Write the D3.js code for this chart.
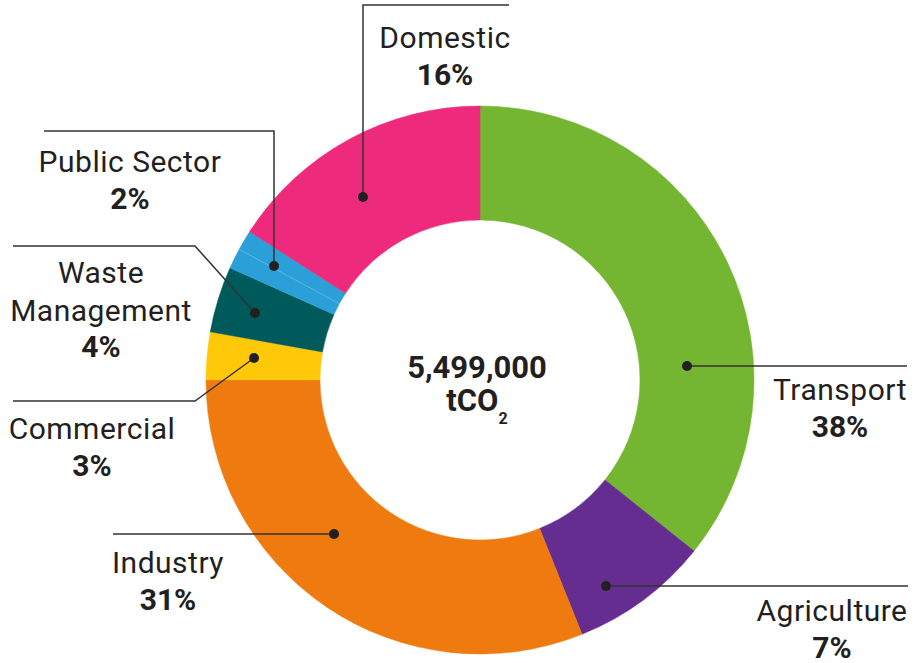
<!DOCTYPE html>
<html>
<head>
<meta charset="utf-8">
<script src="https://cdn.jsdelivr.net/npm/d3@7"></script>
<style>
  html, body { margin: 0; padding: 0; background: #fff; }
  #chart { width: 924px; height: 663px; }
  text { font-family: Roboto, "Noto Sans", sans-serif; fill: #231f20; }
</style>
</head>
<body>
<div id="chart"></div>
<script>
// Emissions by sector, slices in clockwise order from 12 o'clock
const sectors = ["Transport", "Agriculture", "Industry", "Commercial", "Waste Management", "Public Sector", "Domestic"];
// slice sizes as drawn (share of the ring, %)
const sliceShares = [35.75, 8.2, 31.1, 2.8, 3.9, 2.4, 15.9];
// labelled percentages
const labelPercents = ["38%", "7%", "31%", "3%", "4%", "2%", "16%"];
const sectorColors = ["#74b531", "#652d90", "#ef7b10", "#ffc90a", "#005a5b", "#2a9fd8", "#ed2a7b"];
const totalLabel = "5,499,000";

(function() {
  const width = 924, height = 663;
  const cx = 480, cy = 380;
  const outerR = 274, innerR = 160;

  const svg = d3.select("#chart").append("svg")
    .attr("width", width)
    .attr("height", height);

  const g = svg.append("g").attr("transform", `translate(${cx},${cy})`);

  const data = sectors.map((name, i) => ({
    name, value: sliceShares[i], label: labelPercents[i], color: sectorColors[i]
  }));

  const pie = d3.pie().value(d => d.value).sort(null);
  const arc = d3.arc().innerRadius(innerR).outerRadius(outerR);
  const arcs = pie(data);

  g.selectAll("path.slice")
    .data(arcs)
    .join("path")
    .attr("class", "slice")
    .attr("d", arc)
    .attr("fill", d => d.data.color)
    .attr("stroke", d => d.data.color)
    .attr("stroke-width", 0.5);

  // faint seam inside the public sector slice
  const pub = arcs[5];
  const mid = (pub.startAngle + pub.endAngle) / 2;
  g.append("line")
    .attr("x1", Math.sin(mid) * innerR).attr("y1", -Math.cos(mid) * innerR)
    .attr("x2", Math.sin(mid) * outerR).attr("y2", -Math.cos(mid) * outerR)
    .attr("stroke", "#fff").attr("stroke-opacity", 0.25).attr("stroke-width", 1);

  // callout layout: leader path (page coords, dot first) and label position
  const callouts = [
    { path: [[687, 366], [907, 366]], tx: 840, ty: 400 },
    { path: [[606, 586], [908, 586]], tx: 832, ty: 621 },
    { path: [[334, 534], [113, 534]], tx: 168, ty: 573 },
    { path: [[254, 358], [195, 401], [13, 401]], tx: 92, ty: 439 },
    { path: [[255, 313], [195, 246], [13, 246]], tx: 101, ty: 283, lines: ["Waste", "Management"] },
    { path: [[274, 266], [274, 131], [44, 131]], tx: 130, ty: 172 },
    { path: [[363, 197], [363, 5], [509, 5]], tx: 445, ty: 48 }
  ];

  const line = d3.line();
  const ann = svg.append("g");

  callouts.forEach((c, i) => {
    const d = data[i];
    ann.append("path")
      .attr("d", line(c.path))
      .attr("fill", "none")
      .attr("stroke", "#333")
      .attr("stroke-width", 1.5);
    ann.append("circle")
      .attr("cx", c.path[0][0]).attr("cy", c.path[0][1])
      .attr("r", 5).attr("fill", "#231f20");

    const names = c.lines || [d.name];
    const t = ann.append("text")
      .attr("text-anchor", "middle")
      .attr("x", c.tx).attr("y", c.ty);
    names.forEach((n, k) => {
      t.append("tspan")
        .attr("x", c.tx).attr("dy", k === 0 ? 0 : 37.5)
        .style("font-size", "30px")
        .style("letter-spacing", "0.5px")
        .text(n);
    });
    t.append("tspan")
      .attr("x", c.tx).attr("dy", 36.5)
      .style("font-size", "30px")
      .style("font-weight", "700")
      .text(d.label);
  });

  // centre total
  g.append("text")
    .attr("text-anchor", "middle")
    .attr("x", -3).attr("y", -2)
    .style("font-size", "31px")
    .style("font-weight", "700")
    .text(totalLabel);

  const unit = g.append("text")
    .attr("text-anchor", "middle")
    .attr("x", -3).attr("y", 31)
    .style("font-size", "31px")
    .style("font-weight", "700");
  unit.append("tspan").text("tCO");
  unit.append("tspan")
    .attr("dy", 13)
    .style("font-size", "16px")
    .text("2");
})();
</script>
</body>
</html>
